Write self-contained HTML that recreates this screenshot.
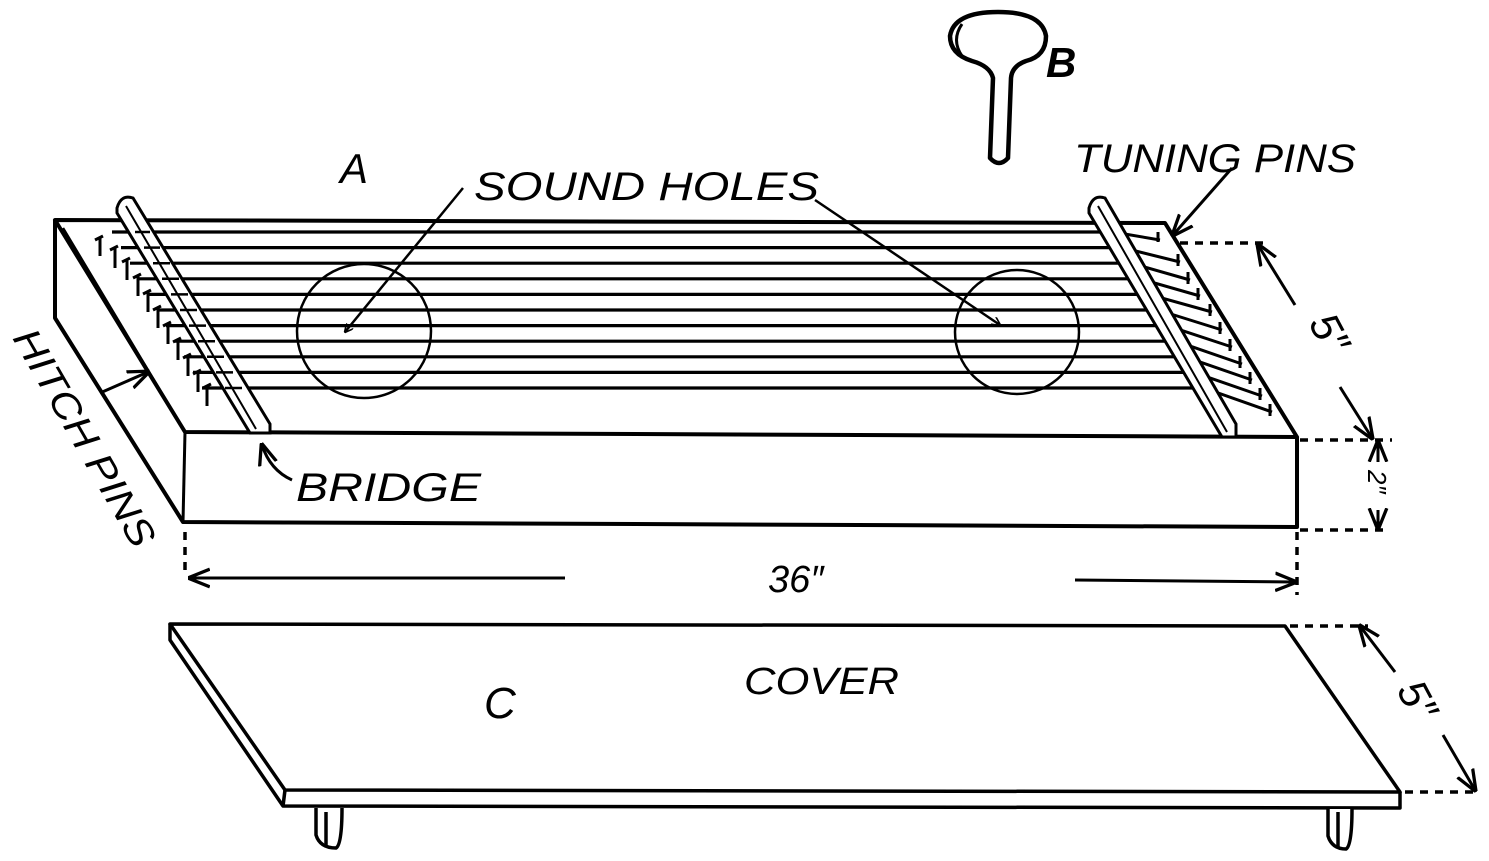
<!DOCTYPE html>
<html><head><meta charset="utf-8"><style>
html,body{margin:0;padding:0;background:#fff}
svg{display:block}
text{font-family:"Liberation Sans",sans-serif;fill:#000}
</style></head><body>
<svg width="1489" height="861" viewBox="0 0 1489 861" xmlns="http://www.w3.org/2000/svg">
<defs>
<marker id="ah" viewBox="0 0 10 10" refX="9" refY="5" markerWidth="9" markerHeight="9" orient="auto-start-reverse" markerUnits="userSpaceOnUse">
<path d="M0,0 L10,5 L0,10" fill="none" stroke="#000" stroke-width="1.8"/>
</marker>
<marker id="ah2" viewBox="0 0 10 10" refX="9" refY="5" markerWidth="22" markerHeight="22" orient="auto-start-reverse" markerUnits="userSpaceOnUse">
<path d="M0,1 L10,5 L0,9" fill="none" stroke="#000" stroke-width="1.5"/>
</marker>
</defs>
<g fill="none" stroke="#000" stroke-width="4" stroke-linejoin="round">
<path d="M55,220 L1165,223 L1297,437 L185,432 Z"/>
<path d="M55,220 L55,318 L183,522 L1297,527 L1297,437"/>
<path d="M185,432 L183,522" stroke-width="3"/>
<path d="M63,228 L185,432" stroke-width="2.5"/>
</g>
<g stroke="#000" stroke-width="3.2">
<line x1="112" y1="232" x2="1113" y2="232"/>
<line x1="121" y1="247.6" x2="1122" y2="247.6"/>
<line x1="130" y1="263.2" x2="1131" y2="263.2"/>
<line x1="139" y1="278.8" x2="1140" y2="278.8"/>
<line x1="148" y1="294.4" x2="1149" y2="294.4"/>
<line x1="157" y1="310" x2="1158" y2="310"/>
<line x1="166" y1="325.6" x2="1167" y2="325.6"/>
<line x1="175" y1="341.2" x2="1176" y2="341.2"/>
<line x1="184" y1="356.8" x2="1185" y2="356.8"/>
<line x1="193" y1="372.4" x2="1194" y2="372.4"/>
<line x1="202" y1="388" x2="1204" y2="388"/>
</g>
<g stroke="#000" stroke-width="3" fill="none">
<path d="M1113,232 L1160,240"/><path d="M1122,247.6 L1180,262"/><path d="M1131,263.2 L1190,280"/>
<path d="M1140,278.8 L1200,296"/><path d="M1149,294.4 L1212,312"/><path d="M1158,310 L1222,330"/>
<path d="M1167,325.6 L1232,347"/><path d="M1176,341.2 L1242,364"/><path d="M1185,356.8 L1252,380"/>
<path d="M1194,372.4 L1262,396"/><path d="M1204,388 L1272,412"/>
</g>
<g stroke="#000" stroke-width="3">
<path d="M1158,232 v10 M1178,254 v12 M1188,272 v12 M1198,288 v12 M1210,304 v12 M1220,322 v12 M1230,339 v12 M1240,356 v12 M1250,372 v12 M1260,388 v12 M1270,404 v12"/>
</g>
<g stroke="#000" stroke-width="3">
<path d="M95,240 l8,-4 M100,238 v18 M110,250 l8,-4 M115,248 v20 M122,262 l8,-4 M127,260 v20 M133,278 l8,-4 M138,276 v20 M143,294 l8,-4 M148,292 v20 M153,310 l8,-4 M158,308 v20 M163,326 l8,-4 M168,324 v20 M173,342 l8,-4 M178,340 v20 M183,358 l8,-4 M188,356 v20 M193,374 l8,-4 M198,372 v20 M203,388 l8,-4 M207,386 v20"/>
</g>
<g fill="#fff" stroke="#000" stroke-width="3">
<path d="M117,208 Q121,194 133,198 L270,424 L270,433 L250,433 L117,213 Z"/>
<path d="M1089,208 Q1093,194 1105,198 L1236,424 L1236,437 L1222,437 L1089,213 Z"/>
</g>
<g stroke="#000" stroke-width="2" fill="none">
<path d="M126,206 L256,429 M1098,206 L1227,432"/>
</g>
<g stroke="#000" stroke-width="2.5">
<line x1="135" y1="232" x2="150" y2="232"/><line x1="144" y1="247.6" x2="160" y2="247.6"/>
<line x1="153" y1="263.2" x2="170" y2="263.2"/><line x1="162" y1="278.8" x2="179" y2="278.8"/>
<line x1="171" y1="294.4" x2="188" y2="294.4"/><line x1="180" y1="310" x2="197" y2="310"/>
<line x1="189" y1="325.6" x2="206" y2="325.6"/><line x1="198" y1="341.2" x2="215" y2="341.2"/>
<line x1="207" y1="356.8" x2="224" y2="356.8"/><line x1="216" y1="372.4" x2="233" y2="372.4"/>
<line x1="225" y1="388" x2="242" y2="388"/>
</g>
<g fill="none" stroke="#000" stroke-width="2.5">
<circle cx="364" cy="331" r="67"/>
<circle cx="1017" cy="332" r="62"/>
<path d="M463,188 L345,332" marker-end="url(#ah)"/>
<path d="M815,200 L1000,325" marker-end="url(#ah)"/>
<path d="M1232,168 L1173,235" stroke-width="3" marker-end="url(#ah2)"/>
<path d="M100,393 L148,372" stroke-width="3" marker-end="url(#ah2)"/>
<path d="M292,480 Q270,470 262,445" stroke-width="3" marker-end="url(#ah2)"/>
</g>
<g fill="none" stroke="#000" stroke-width="3">
<path d="M565,578 L190,578" marker-end="url(#ah2)"/>
<path d="M1075,580 L1295,582" marker-end="url(#ah2)"/>
<path d="M1295,305 L1258,245" marker-end="url(#ah2)"/>
<path d="M1340,387 L1372,438" marker-end="url(#ah2)"/>
<path d="M1378,462 L1378,442" marker-end="url(#ah2)"/>
<path d="M1378,510 L1378,528" marker-end="url(#ah2)"/>
<path d="M1395,672 L1360,626" marker-end="url(#ah2)"/>
<path d="M1443,735 L1475,790" marker-end="url(#ah2)"/>
</g>
<g fill="none" stroke="#000" stroke-width="3.5" stroke-dasharray="8,7">
<path d="M185,532 V572"/><path d="M1297,532 V595"/>
<path d="M1180,243 H1270"/><path d="M1300,440 H1392"/><path d="M1300,530 H1385"/>
<path d="M1290,626 H1368"/><path d="M1405,792 H1480"/>
</g>
<g fill="none" stroke="#000" stroke-width="3.5" stroke-linejoin="round">
<path d="M170,624 L1285,626 L1400,792 L285,790 Z"/>
<path d="M170,624 L170,640 L283,806 L1400,808 L1400,792"/>
<path d="M285,790 L283,806"/>
<path d="M316,808 V835 Q320,848 336,848 Q342,845 342,808" fill="#fff"/>
<path d="M326,812 V846"/>
<path d="M1328,809 V836 Q1332,849 1346,849 Q1352,846 1352,809" fill="#fff"/>
<path d="M1338,812 V847"/>
</g>
<g fill="none" stroke="#000" stroke-width="4.5" stroke-linejoin="round">
<path d="M990,158 L993,78 Q990,66 972,61 Q950,54 950,36 Q954,12 998,12 Q1042,12 1046,36 Q1046,56 1026,61 Q1012,66 1011,78 L1008,158 Q999,168 990,158 Z"/>
<path d="M962,24 Q951,40 962,56" stroke-width="3"/>
</g>
<g font-style="italic" font-size="42">
<text x="340" y="183">A</text>
<text x="1046" y="77" font-weight="bold">B</text>
<text x="474" y="200" font-size="40" textLength="345" lengthAdjust="spacingAndGlyphs">SOUND HOLES</text>
<text x="1074" y="172" font-size="40" textLength="282" lengthAdjust="spacingAndGlyphs">TUNING PINS</text>
<text x="296" y="501" font-size="40" textLength="185" lengthAdjust="spacingAndGlyphs">BRIDGE</text>
<text x="768" y="592" font-size="38">36″</text>
<text x="744" y="694" font-size="38" textLength="155" lengthAdjust="spacingAndGlyphs">COVER</text>
<text x="484" y="718" font-size="44">C</text>
<text transform="translate(12,338) rotate(60)" font-size="38" textLength="245" lengthAdjust="spacingAndGlyphs">HITCH PINS</text>
<text transform="translate(1308,323) rotate(62)" font-size="42">5″</text>
<text transform="translate(1368,470) rotate(90)" font-size="26">2″</text>
<text transform="translate(1396,690) rotate(62)" font-size="42">5″</text>
</g>
</svg>
</body></html>
